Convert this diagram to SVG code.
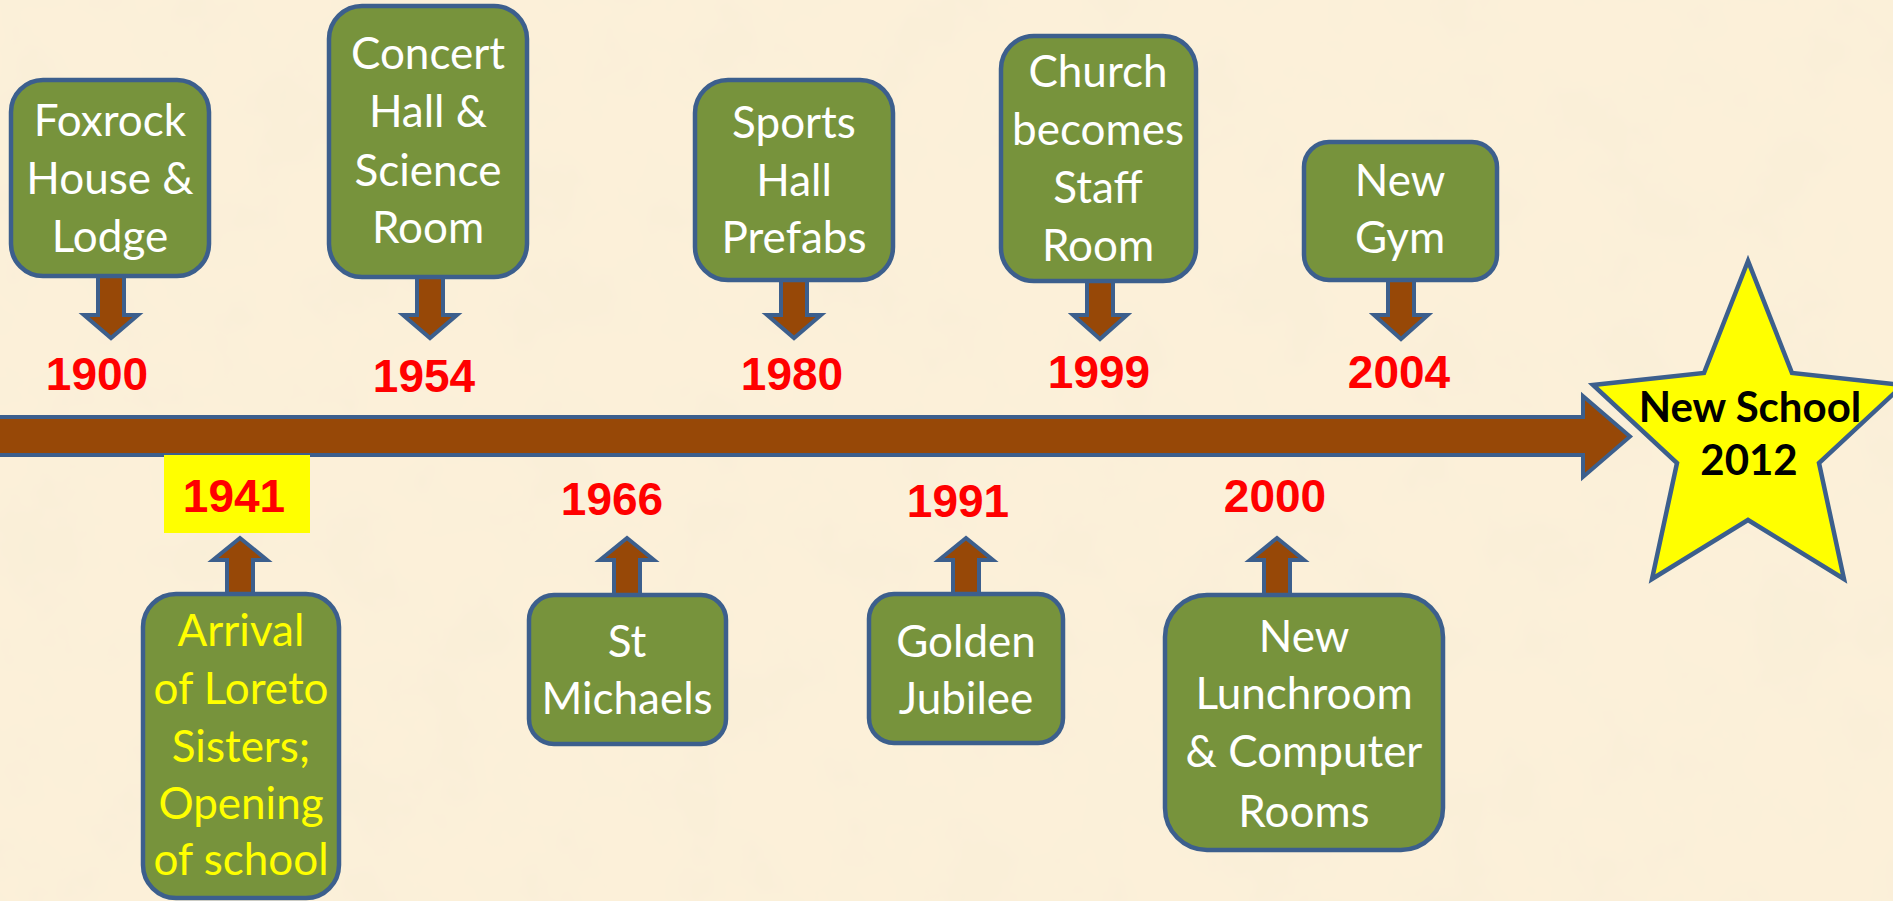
<svg xmlns="http://www.w3.org/2000/svg" width="1893" height="901" viewBox="0 0 1893 901">
<defs>
<filter id="paper" x="0" y="0" width="100%" height="100%">
<feTurbulence type="fractalNoise" baseFrequency="0.012" numOctaves="4" seed="3"/>
<feColorMatrix type="matrix" values="0 0 0 0 0.92  0 0 0 0 0.85  0 0 0 0 0.68  0.9 0 0 0 -0.35"/>
</filter>
</defs>
<style>
.box{fill:#77933C;stroke:#3C5F8D;stroke-width:4.5}
.arr{fill:#974807;stroke:#3C5F8D;stroke-width:4;stroke-linejoin:miter}
.t{font-family:Lato,"Open Sans","Liberation Sans",sans-serif;font-size:44px;fill:#FFFFFF;text-anchor:middle}
.ty{fill:#FFFF00}
.yr{font-family:"Liberation Sans",Arial,sans-serif;font-weight:bold;font-size:46px;fill:#FF0000;text-anchor:middle}
.st{font-family:Lato,"Liberation Sans",sans-serif;font-weight:bold;font-size:42px;fill:#000000;text-anchor:middle}
</style>
<rect x="0" y="0" width="1893" height="901" fill="#FCF0D9"/>
<rect x="0" y="0" width="1893" height="901" filter="url(#paper)"/>

<g id="connectors">
<path id="timeline" class="arr" d="M-10,417 L1583,417 L1583,396 L1630,436.5 L1583,477 L1583,455 L-10,455 Z"/>
<path class="arr" d="M98,270 L98,315 L84,315 L111,338 L138,315 L124,315 L124,270 Z"/>
<path class="arr" d="M417,270 L417,315 L403,315 L430,338 L457,315 L443,315 L443,270 Z"/>
<path class="arr" d="M781,272 L781,315 L767,315 L794,338 L821,315 L807,315 L807,272 Z"/>
<path class="arr" d="M1087,272 L1087,315 L1073,315 L1100,339 L1127,315 L1113,315 L1113,272 Z"/>
<path class="arr" d="M1388,272 L1388,315 L1374,315 L1401,339 L1428,315 L1414,315 L1414,272 Z"/>
<path class="arr" d="M227,604 L227,560 L213,560 L240,538 L267,560 L253,560 L253,604 Z"/>
<path class="arr" d="M614,604 L614,560 L600,560 L627,538 L654,560 L640,560 L640,604 Z"/>
<path class="arr" d="M953,604 L953,560 L939,560 L966,538 L993,560 L979,560 L979,604 Z"/>
<path class="arr" d="M1264,604 L1264,560 L1250,560 L1277,538 L1304,560 L1290,560 L1290,604 Z"/>
</g>

<g id="n1900">
<rect class="box" x="11" y="80" width="198" height="196" rx="32"/>
<text class="t" x="110" y="136">Foxrock</text>
<text class="t" x="110" y="194">House &amp;</text>
<text class="t" x="110" y="252">Lodge</text>
<text class="yr" x="97" y="390">1900</text>
</g>

<g id="n1954">
<rect class="box" x="329" y="6" width="198" height="271" rx="33"/>
<text class="t" x="428" y="69">Concert</text>
<text class="t" x="428" y="127">Hall &amp;</text>
<text class="t" x="428" y="186">Science</text>
<text class="t" x="428" y="243">Room</text>
<text class="yr" x="424" y="392">1954</text>
</g>

<g id="n1980">
<rect class="box" x="695" y="80" width="198" height="200" rx="33"/>
<text class="t" x="794" y="138">Sports</text>
<text class="t" x="794" y="196">Hall</text>
<text class="t" x="794" y="253">Prefabs</text>
<text class="yr" x="792" y="390">1980</text>
</g>

<g id="n1999">
<rect class="box" x="1001" y="36" width="195" height="245" rx="33"/>
<text class="t" x="1098" y="87">Church</text>
<text class="t" x="1098" y="145">becomes</text>
<text class="t" x="1098" y="203">Staff</text>
<text class="t" x="1098" y="261">Room</text>
<text class="yr" x="1099" y="388">1999</text>
</g>

<g id="n2004">
<rect class="box" x="1304" y="142" width="193" height="138" rx="25"/>
<text class="t" x="1400" y="196">New</text>
<text class="t" x="1400" y="253">Gym</text>
<text class="yr" x="1399" y="388">2004</text>
</g>

<g id="n1941">
<rect x="164" y="455" width="146" height="78" fill="#FFFF00"/>
<text class="yr" x="234" y="512">1941</text>
<rect class="box" x="143" y="594" width="196" height="304" rx="33"/>
<text class="t ty" x="241" y="646">Arrival</text>
<text class="t ty" x="241" y="704">of Loreto</text>
<text class="t ty" x="241" y="762">Sisters;</text>
<text class="t ty" x="241" y="819">Opening</text>
<text class="t ty" x="241" y="875">of school</text>
</g>

<g id="n1966">
<text class="yr" x="612" y="515">1966</text>
<rect class="box" x="529" y="595" width="197" height="149" rx="25"/>
<text class="t" x="627" y="657">St</text>
<text class="t" x="627" y="714">Michaels</text>
</g>

<g id="n1991">
<text class="yr" x="958" y="517">1991</text>
<rect class="box" x="869" y="594" width="194" height="149" rx="25"/>
<text class="t" x="966" y="657">Golden</text>
<text class="t" x="966" y="714">Jubilee</text>
</g>

<g id="n2000">
<text class="yr" x="1275" y="512">2000</text>
<rect class="box" x="1165" y="595" width="278" height="255" rx="42"/>
<text class="t" x="1304" y="652">New</text>
<text class="t" x="1304" y="709">Lunchroom</text>
<text class="t" x="1304" y="767">&amp; Computer</text>
<text class="t" x="1304" y="827">Rooms</text>
</g>

<g id="n2012">
<path d="M1748,261 L1704,373 L1593,385 L1677,463 L1652,579 L1748,520 L1844,579 L1819,463 L1903,385 L1792,373 Z" fill="#FFFF00" stroke="#3C5F8D" stroke-width="4.5" stroke-linejoin="miter"/>
<text class="st" x="1750" y="422">New School</text>
<text class="st" x="1749" y="475">2012</text>
</g>
</svg>
